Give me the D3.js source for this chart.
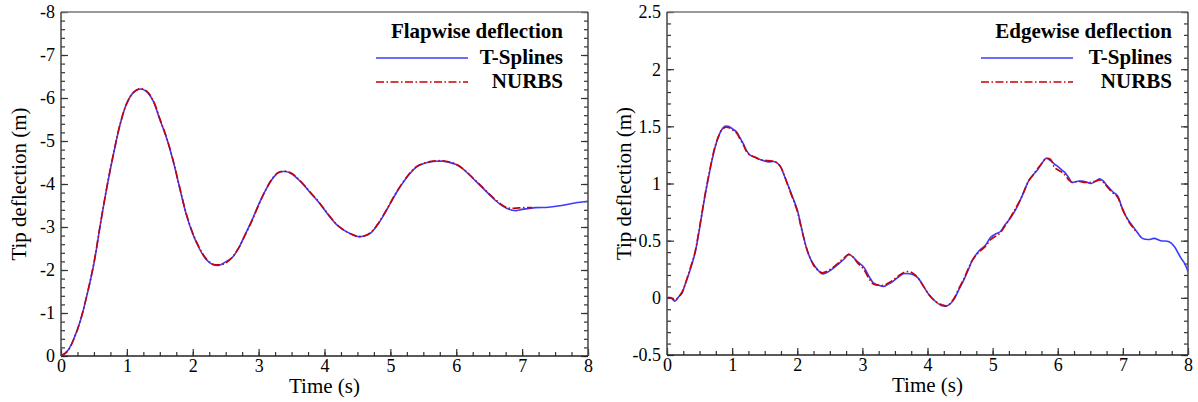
<!DOCTYPE html>
<html>
<head>
<meta charset="utf-8">
<script src="https://cdn.jsdelivr.net/npm/d3@7"></script>
<style>
    body { margin: 0; background: #fff; }
    svg { display: block; font-family: "Liberation Serif", "Times New Roman", serif; }
    .tick text { font-size: 18px; fill: #000; }
    .domain { display: none; }
    .tick line { stroke: #333; stroke-width: 1.2; }
</style>
</head>
<body>
<svg id="chart" width="1198" height="402"></svg>
<script>
// ---- data ----
// flapwise tip deflection (left panel)
const flapTime = [0, 0.1, 0.2, 0.3, 0.4, 0.5, 0.6, 0.7, 0.8, 0.9, 1.0, 1.1, 1.2, 1.3, 1.4, 1.5, 1.6, 1.7, 1.8, 1.9,
    2.0, 2.1, 2.2, 2.3, 2.4, 2.5, 2.6, 2.7, 2.8, 2.9, 3.0, 3.1, 3.2, 3.3, 3.4, 3.5, 3.6, 3.7, 3.8, 3.9,
    4.0, 4.1, 4.2, 4.3, 4.4, 4.5, 4.6, 4.7, 4.8, 4.9, 5.0, 5.1, 5.2, 5.3, 5.4, 5.5, 5.6, 5.7, 5.8, 5.9,
    6.0, 6.1, 6.2, 6.3, 6.4, 6.5, 6.6, 6.7, 6.8, 6.9, 7.0, 7.2, 7.4, 7.6, 7.8, 8.0];
const flapTSplines = [0, -0.12, -0.42, -0.85, -1.45, -2.15, -3.08, -3.95, -4.72, -5.40, -5.88, -6.13, -6.21, -6.15, -5.93, -5.50, -5.08, -4.55, -3.92, -3.30,
    -2.84, -2.50, -2.25, -2.13, -2.11, -2.19, -2.29, -2.52, -2.84, -3.16, -3.52, -3.84, -4.10, -4.26, -4.29, -4.24, -4.11, -3.95, -3.77, -3.60,
    -3.40, -3.20, -3.03, -2.92, -2.84, -2.78, -2.79, -2.86, -3.04, -3.28, -3.55, -3.82, -4.05, -4.25, -4.40, -4.47, -4.51, -4.53, -4.53, -4.50,
    -4.45, -4.35, -4.21, -4.06, -3.91, -3.76, -3.61, -3.49, -3.41, -3.38, -3.41, -3.45, -3.46, -3.50, -3.56, -3.60];
const flapNurbsTime = [0, 0.1, 0.2, 0.3, 0.4, 0.5, 0.6, 0.7, 0.8, 0.9, 1.0, 1.1, 1.2, 1.3, 1.4, 1.5, 1.6, 1.7, 1.8, 1.9,
    2.0, 2.1, 2.2, 2.3, 2.4, 2.5, 2.6, 2.7, 2.8, 2.9, 3.0, 3.1, 3.2, 3.3, 3.4, 3.5, 3.6, 3.7, 3.8, 3.9,
    4.0, 4.1, 4.2, 4.3, 4.4, 4.5, 4.6, 4.7, 4.8, 4.9, 5.0, 5.1, 5.2, 5.3, 5.4, 5.5, 5.6, 5.7, 5.8, 5.9,
    6.0, 6.1, 6.2, 6.3, 6.4, 6.5, 6.6, 6.7, 6.8, 6.9, 7.0, 7.15];
const flapNurbs = [0, -0.11, -0.41, -0.86, -1.46, -2.17, -3.09, -3.96, -4.73, -5.41, -5.88, -6.13, -6.22, -6.16, -5.94, -5.52, -5.09, -4.56, -3.93, -3.32,
    -2.86, -2.52, -2.27, -2.14, -2.12, -2.16, -2.30, -2.52, -2.83, -3.15, -3.51, -3.84, -4.11, -4.27, -4.30, -4.25, -4.12, -3.96, -3.78, -3.61,
    -3.41, -3.21, -3.04, -2.92, -2.84, -2.78, -2.79, -2.87, -3.05, -3.29, -3.56, -3.83, -4.06, -4.26, -4.41, -4.48, -4.52, -4.54, -4.54, -4.51,
    -4.46, -4.36, -4.22, -4.07, -3.92, -3.77, -3.63, -3.51, -3.44, -3.44, -3.45, -3.45];

// edgewise tip deflection (right panel)
const edgeTime = [0, 0.06, 0.12, 0.18, 0.23, 0.28, 0.33, 0.38, 0.43, 0.48, 0.53, 0.58, 0.64, 0.69, 0.74, 0.79, 0.84, 0.89, 0.94, 1.0,
    1.07, 1.12, 1.17, 1.22, 1.27, 1.35, 1.43, 1.54, 1.66, 1.74, 1.8, 1.87, 1.93, 2.0, 2.07, 2.15, 2.22, 2.28, 2.38, 2.45,
    2.51, 2.58, 2.64, 2.72, 2.79, 2.85, 2.92, 3.02, 3.1, 3.17, 3.25, 3.33, 3.4, 3.46, 3.55, 3.63, 3.72, 3.79, 3.86, 3.94,
    4.02, 4.12, 4.22, 4.3, 4.4, 4.48, 4.56, 4.63, 4.69, 4.79, 4.89, 4.97, 5.05, 5.12, 5.18, 5.25, 5.32, 5.38, 5.46, 5.51,
    5.56, 5.63, 5.69, 5.76, 5.82, 5.89, 5.95, 6.0, 6.06, 6.12, 6.17, 6.22, 6.31, 6.4, 6.51, 6.58, 6.65, 6.7, 6.76, 6.84,
    6.92, 6.98, 7.05, 7.12, 7.2, 7.3, 7.4, 7.48, 7.58, 7.71, 7.79, 7.84, 7.89, 7.95, 8.0];
const edgeTSplines = [0, 0, -0.03, 0.01, 0.04, 0.12, 0.20, 0.29, 0.39, 0.54, 0.71, 0.88, 1.06, 1.20, 1.32, 1.41, 1.47, 1.50, 1.50, 1.48,
    1.45, 1.40, 1.35, 1.29, 1.25, 1.23, 1.21, 1.19, 1.19, 1.15, 1.07, 0.97, 0.88, 0.77, 0.60, 0.42, 0.32, 0.27, 0.21, 0.22,
    0.24, 0.27, 0.30, 0.34, 0.38, 0.36, 0.32, 0.27, 0.19, 0.13, 0.11, 0.10, 0.12, 0.14, 0.18, 0.21, 0.21, 0.20, 0.17, 0.10,
    0.03, -0.03, -0.07, -0.07, -0.02, 0.07, 0.16, 0.25, 0.33, 0.41, 0.46, 0.53, 0.56, 0.58, 0.63, 0.68, 0.74, 0.80, 0.90, 0.97,
    1.03, 1.08, 1.12, 1.18, 1.22, 1.20, 1.17, 1.15, 1.12, 1.09, 1.05, 1.01, 1.02, 1.02, 1.00, 1.02, 1.04, 1.02, 0.98, 0.93,
    0.89, 0.80, 0.71, 0.65, 0.59, 0.52, 0.51, 0.52, 0.50, 0.49, 0.45, 0.40, 0.35, 0.30, 0.23];
const edgeNurbsTime = [0, 0.06, 0.12, 0.18, 0.23, 0.28, 0.33, 0.38, 0.43, 0.48, 0.53, 0.58, 0.64, 0.69, 0.74, 0.79, 0.84, 0.89, 0.94, 1.0,
    1.07, 1.12, 1.17, 1.22, 1.27, 1.35, 1.43, 1.54, 1.66, 1.74, 1.8, 1.87, 1.93, 2.0, 2.07, 2.15, 2.22, 2.28, 2.38, 2.45,
    2.51, 2.58, 2.64, 2.72, 2.79, 2.85, 2.92, 3.02, 3.1, 3.17, 3.25, 3.33, 3.4, 3.46, 3.55, 3.63, 3.72, 3.79, 3.86, 3.94,
    4.02, 4.12, 4.22, 4.3, 4.4, 4.48, 4.56, 4.63, 4.69, 4.79, 4.89, 4.97, 5.05, 5.12, 5.18, 5.25, 5.32, 5.38, 5.46, 5.51,
    5.56, 5.63, 5.69, 5.76, 5.82, 5.89, 5.95, 6.0, 6.06, 6.12, 6.17, 6.22, 6.31, 6.4, 6.51, 6.58, 6.65, 6.7, 6.76, 6.84,
    6.92, 6.98, 7.05, 7.12, 7.22];
const edgeNurbs = [0, 0, -0.02, 0.01, 0.05, 0.12, 0.21, 0.30, 0.40, 0.55, 0.72, 0.89, 1.07, 1.21, 1.33, 1.41, 1.47, 1.49, 1.49, 1.47,
    1.44, 1.39, 1.34, 1.28, 1.25, 1.23, 1.21, 1.20, 1.19, 1.15, 1.07, 0.96, 0.87, 0.76, 0.59, 0.42, 0.32, 0.26, 0.22, 0.23,
    0.25, 0.28, 0.31, 0.35, 0.38, 0.36, 0.31, 0.25, 0.17, 0.12, 0.11, 0.11, 0.13, 0.15, 0.19, 0.22, 0.23, 0.21, 0.17, 0.10,
    0.03, -0.03, -0.06, -0.07, -0.01, 0.08, 0.17, 0.26, 0.33, 0.40, 0.45, 0.51, 0.54, 0.57, 0.62, 0.68, 0.75, 0.81, 0.90, 0.97,
    1.03, 1.08, 1.13, 1.18, 1.22, 1.21, 1.14, 1.12, 1.10, 1.07, 1.03, 1.01, 1.02, 1.01, 1.01, 1.02, 1.03, 1.01, 0.97, 0.92,
    0.88, 0.79, 0.71, 0.64, 0.57];

// axes
const timeTicks = [0, 1, 2, 3, 4, 5, 6, 7, 8];
const flapTicks = [0, -1, -2, -3, -4, -5, -6, -7, -8];
const edgeTicks = [-0.5, 0, 0.5, 1, 1.5, 2, 2.5];
const xTitle = 'Time (s)';
const yTitle = 'Tip deflection (m)';
const seriesNames = ['T-Splines', 'NURBS'];
const panelTitles = ['Flapwise deflection', 'Edgewise deflection'];

const svg = d3.select('#chart');
const blue = '#3b3bff';
const red = '#c80000';
const dashDot = '8,2.5,1.5,2.5';

function minorTicks(lo, hi, step) {
    // tick positions between major ticks
    let out = [];
    let n = Math.round((hi - lo) / step);
    for (let i = 0; i <= n; i++) out.push(+(lo + i * step).toFixed(4));
    return out;
}

// d3 axes put a sans-serif font on their group, drop it so the page font applies
function plainFont(sel) {
    sel.attr('font-family', null).attr('font-size', null);
}

class DeflectionPlot {
    constructor(opts) {
        this.opts = opts;
        this.g = svg.append('g').attr('id', opts.id);
        this.x = d3.scaleLinear().domain([0, 8]).range([opts.left, opts.right]);
        this.y = d3.scaleLinear().domain(opts.yDomain).range([opts.bottom, opts.top]);

        this.drawAxes();
        this.drawLines();
        this.drawLegend();
    }

    drawAxes() {
        const o = this.opts;
        const fmt = d => String(d);

        // minor ticks first, majors on top
        this.g.append('g')
            .attr('transform', `translate(0,${o.bottom})`)
            .call(d3.axisBottom(this.x).tickValues(minorTicks(0, 8, 0.25)).tickSize(-4).tickFormat(''))
            .call(plainFont);
        this.g.append('g')
            .attr('transform', `translate(0,${o.bottom})`)
            .call(d3.axisBottom(this.x).tickValues(timeTicks).tickSize(-7).tickPadding(3).tickFormat(fmt))
            .call(plainFont);

        const yMinor = minorTicks(d3.min(o.yDomain), d3.max(o.yDomain), o.yMinor);
        [['left', o.left, d3.axisLeft], ['right', o.right, d3.axisRight]].forEach(([side, xPos, axisFn]) => {
            this.g.append('g')
                .attr('transform', `translate(${xPos},0)`)
                .call(axisFn(this.y).tickValues(yMinor).tickSize(-4).tickFormat(''))
                .call(plainFont);
            let major = this.g.append('g')
                .attr('transform', `translate(${xPos},0)`)
                .call(axisFn(this.y).tickValues(o.yTicks).tickSize(-7).tickPadding(6).tickFormat(side === 'left' ? fmt : ''))
                .call(plainFont);
            major.selectAll('.tick text').attr('dy', '0.33em');
        });

        // frame
        this.g.append('line')
            .attr('x1', o.left).attr('x2', o.right).attr('y1', o.top).attr('y2', o.top)
            .attr('stroke', '#777').attr('stroke-width', 1.5);
        this.g.append('line')
            .attr('x1', o.right).attr('x2', o.right).attr('y1', o.top).attr('y2', o.bottom)
            .attr('stroke', '#444').attr('stroke-width', 1.5);
        this.g.append('line')
            .attr('x1', o.left).attr('x2', o.left).attr('y1', o.top).attr('y2', o.bottom)
            .attr('stroke', '#444').attr('stroke-width', 1.5);
        this.g.append('line')
            .attr('x1', o.left).attr('x2', o.right).attr('y1', o.bottom).attr('y2', o.bottom)
            .attr('stroke', '#222').attr('stroke-width', 1.5);

        // titles
        this.g.append('text')
            .attr('x', (o.left + o.right) / 2)
            .attr('y', o.bottom + 37)
            .attr('text-anchor', 'middle')
            .style('font-size', '21px')
            .text(xTitle);
        this.g.append('text')
            .attr('transform', `translate(${o.yTitleX},${(o.top + o.bottom) / 2}) rotate(-90)`)
            .attr('text-anchor', 'middle')
            .style('font-size', '21px')
            .text(yTitle);
    }

    drawLines() {
        const o = this.opts;
        const clipId = o.id + '-clip';
        this.g.append('clipPath').attr('id', clipId)
            .append('rect')
            .attr('x', o.left).attr('y', o.top)
            .attr('width', o.right - o.left).attr('height', o.bottom - o.top);

        let line = d3.line()
            .x(d => this.x(d[0]))
            .y(d => this.y(d[1]))
            .curve(d3.curveCatmullRom.alpha(0.5));

        const tsp = d3.zip(o.tTime, o.tVals);
        const nrb = d3.zip(o.nTime, o.nVals);

        let lines = this.g.append('g').attr('clip-path', `url(#${clipId})`);
        lines.append('path')
            .datum(tsp)
            .attr('d', line)
            .attr('fill', 'none')
            .attr('stroke', blue)
            .attr('stroke-width', 1.6);
        lines.append('path')
            .datum(nrb)
            .attr('d', line)
            .attr('fill', 'none')
            .attr('stroke', red)
            .attr('stroke-width', 1.6)
            .attr('stroke-dasharray', dashDot);
    }

    drawLegend() {
        const o = this.opts;
        const lg = this.g.append('g').style('font-weight', 'bold').style('font-size', '21px');
        lg.append('text')
            .attr('x', o.legendRight).attr('y', 38)
            .attr('text-anchor', 'end')
            .text(o.title);
        lg.append('text')
            .attr('x', o.legendRight).attr('y', 64)
            .attr('text-anchor', 'end')
            .text(seriesNames[0]);
        lg.append('text')
            .attr('x', o.legendRight).attr('y', 88)
            .attr('text-anchor', 'end')
            .text(seriesNames[1]);

        lg.append('line')
            .attr('x1', o.legendLine[0]).attr('x2', o.legendLine[1])
            .attr('y1', 58).attr('y2', 58)
            .attr('stroke', blue).attr('stroke-width', 1.6);
        lg.append('line')
            .attr('x1', o.legendLine[0]).attr('x2', o.legendLine[1])
            .attr('y1', 82).attr('y2', 82)
            .attr('stroke', red).attr('stroke-width', 1.6)
            .attr('stroke-dasharray', dashDot);
    }
}

new DeflectionPlot({
    id: 'flap',
    left: 61, right: 588, top: 12, bottom: 356,
    yDomain: [0, -8], yTicks: flapTicks, yMinor: 0.2,
    yTitleX: 26,
    tTime: flapTime, tVals: flapTSplines,
    nTime: flapNurbsTime, nVals: flapNurbs,
    title: panelTitles[0],
    legendRight: 563, legendLine: [376, 468]
});

new DeflectionPlot({
    id: 'edge',
    left: 667, right: 1188, top: 12, bottom: 355,
    yDomain: [-0.5, 2.5], yTicks: edgeTicks, yMinor: 0.1,
    yTitleX: 631,
    tTime: edgeTime, tVals: edgeTSplines,
    nTime: edgeNurbsTime, nVals: edgeNurbs,
    title: panelTitles[1],
    legendRight: 1172, legendLine: [981, 1073]
});
</script>
</body>
</html>
